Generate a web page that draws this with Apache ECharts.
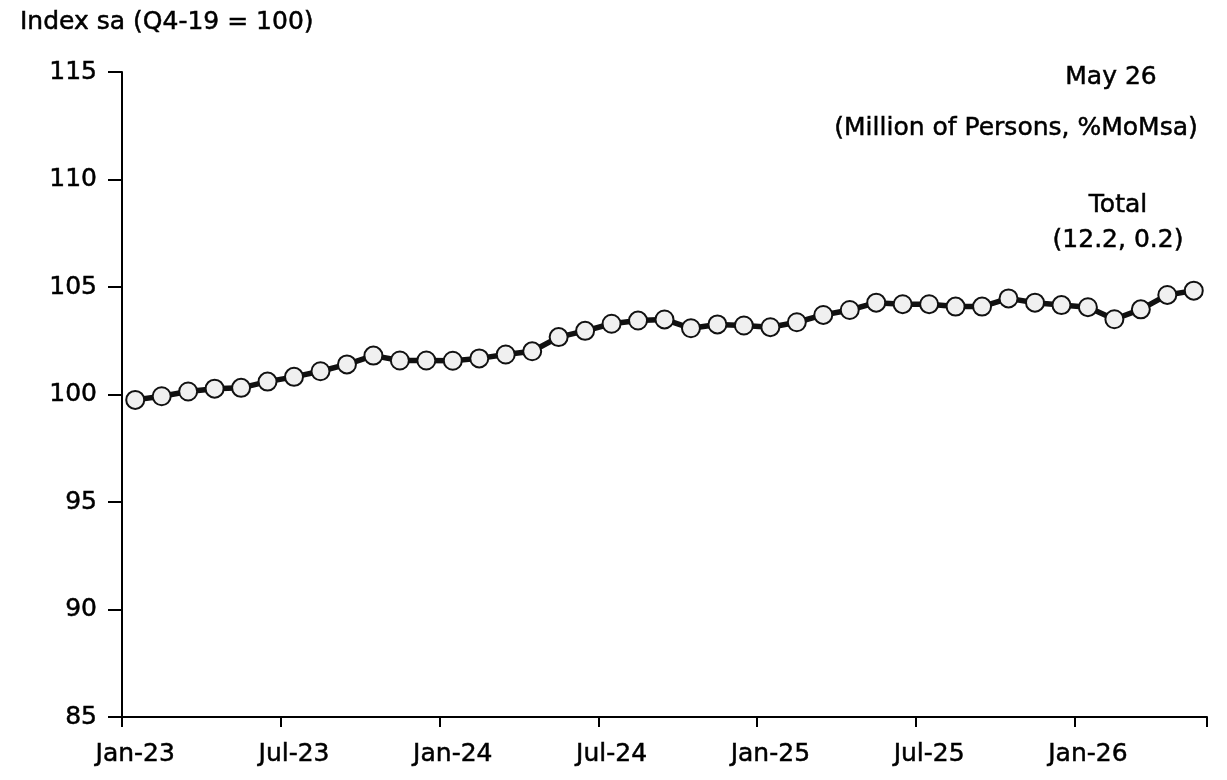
<!DOCTYPE html>
<html>
<head>
<meta charset="utf-8">
<script src="https://cdn.jsdelivr.net/npm/echarts@6/dist/echarts.min.js"></script>
<style>
  html, body { margin: 0; padding: 0; background: #fff; }
  #chart { width: 1227px; height: 780px; }
</style>
</head>
<body>
<div id="chart"></div>
<script>
// months Jan-23 .. May-26
var months = [
  'Jan-23', 'Feb-23', 'Mar-23', 'Apr-23', 'May-23', 'Jun-23', 'Jul-23', 'Aug-23', 'Sep-23', 'Oct-23', 'Nov-23', 'Dec-23',
  'Jan-24', 'Feb-24', 'Mar-24', 'Apr-24', 'May-24', 'Jun-24', 'Jul-24', 'Aug-24', 'Sep-24', 'Oct-24', 'Nov-24', 'Dec-24',
  'Jan-25', 'Feb-25', 'Mar-25', 'Apr-25', 'May-25', 'Jun-25', 'Jul-25', 'Aug-25', 'Sep-25', 'Oct-25', 'Nov-25', 'Dec-25',
  'Jan-26', 'Feb-26', 'Mar-26', 'Apr-26', 'May-26'
];
var totalIndex = [
  99.75, 99.92, 100.14, 100.27, 100.31, 100.6, 100.82, 101.08, 101.4, 101.81, 101.58, 101.58,
  101.57, 101.68, 101.86, 102.01, 102.67, 102.96, 103.29, 103.44, 103.49, 103.08, 103.26, 103.21,
  103.13, 103.36, 103.7, 103.93, 104.27, 104.2, 104.2, 104.09, 104.09, 104.47, 104.27, 104.16,
  104.06, 103.5, 103.96, 104.63, 104.83
];
var yMin = 85, yMax = 115, yStep = 5;

var font = "'DejaVu Sans', sans-serif";
var txt = '25px ' + font;
// a thin outline makes the regular face look a bit heavier, like the original
function note(x, y, text, align) {
  return {
    type: 'text', x: x, y: y,
    style: { text: text, fill: '#000', stroke: '#000', lineWidth: 0.5, font: txt, textAlign: align, textVerticalAlign: 'middle' }
  };
}
var labelStyle = { color: '#000', fontFamily: font, fontSize: 25, textBorderColor: '#000', textBorderWidth: 0.5 };

var myChart = echarts.init(document.getElementById('chart'));
myChart.setOption({
  animation: false,
  backgroundColor: '#fff',
  grid: { left: 122, right: 20, top: 72, bottom: 63 },
  xAxis: {
    type: 'category',
    data: months,
    boundaryGap: true,
    axisLine: { lineStyle: { color: '#000', width: 2 } },
    axisTick: { show: true, interval: 5, length: 10, lineStyle: { color: '#000', width: 2 } },
    axisLabel: Object.assign({ interval: 5, margin: 25 }, labelStyle),
    splitLine: { show: false }
  },
  yAxis: {
    type: 'value',
    min: yMin,
    max: yMax,
    interval: yStep,
    axisLine: { show: true, lineStyle: { color: '#000', width: 2 } },
    axisTick: { show: true, length: 14, lineStyle: { color: '#000', width: 2 } },
    axisLabel: Object.assign({ margin: 25 }, labelStyle),
    splitLine: { show: false }
  },
  graphic: [
    note(20, 22, 'Index sa (Q4-19 = 100)', 'left'),
    note(1111, 77, 'May 26', 'center'),
    note(1016, 128, '(Million of Persons, %MoMsa)', 'center'),
    note(1118, 205, 'Total', 'center'),
    note(1118, 240, '(12.2, 0.2)', 'center')
  ],
  series: [
    {
      name: 'Total',
      type: 'line',
      data: totalIndex,
      symbol: 'circle',
      symbolSize: 18,
      showAllSymbol: true,
      lineStyle: { color: '#111', width: 5.5 },
      itemStyle: { color: '#f0f0f0', borderColor: '#111', borderWidth: 2 }
    }
  ]
});
</script>
</body>
</html>
